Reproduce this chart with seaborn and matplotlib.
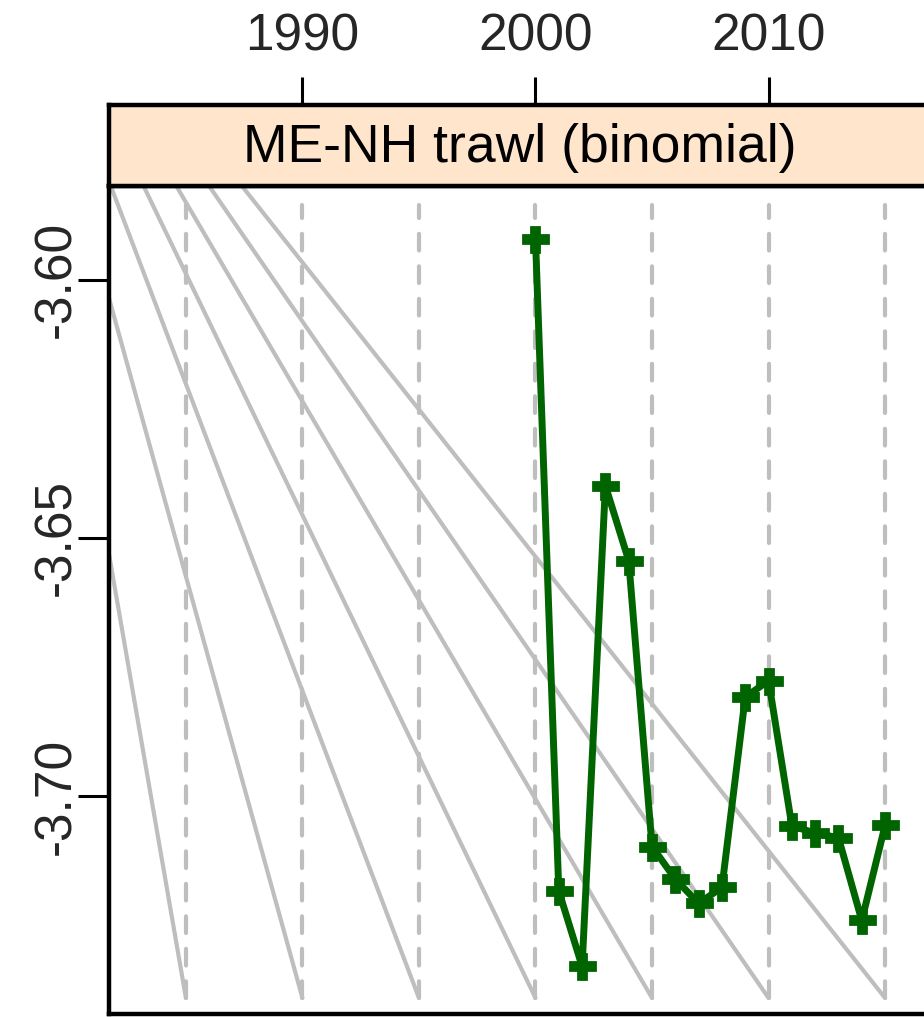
import numpy as np
import pandas as pd
import matplotlib
matplotlib.use("Agg")
import matplotlib.pyplot as plt
import seaborn as sns

# Annual index for the ME-NH trawl survey (binomial component)
years = [2000, 2001, 2002, 2003, 2004, 2005, 2006, 2007,
         2008, 2009, 2010, 2011, 2012, 2013, 2014, 2015]
index_values = [-3.5922, -3.7183, -3.7329, -3.6399, -3.6544, -3.7097,
                -3.7160, -3.7207, -3.7176, -3.6808, -3.6776, -3.7057,
                -3.7071, -3.7080, -3.7240, -3.7056]

panel_title = "ME-NH trawl (binomial)"
x_ticks = [1990, 2000, 2010]
y_ticks = [-3.60, -3.65, -3.70]
y_tick_labels = ["-3.60", "-3.65", "-3.70"]

# Reference guides: vertical dashed years and a fan of diagonal lines
guide_years = [1985, 1990, 1995, 2000, 2005, 2010, 2015]
guide_y_range = [-3.7390, -3.5856]
fan_origin = [1976.60, -3.5204]

x_limits = [1981.70, 2016.97]
y_limits = [-3.7421, -3.5819]

sns.set_theme(style="white")
plt.rcParams["font.family"] = ["Liberation Sans", "DejaVu Sans"]

W, H = 924, 1017
fig = plt.figure(figsize=(W / 100, H / 100), dpi=100)

def fx(px):
    return px / W

def fy(py):
    return 1 - py / H

ax = fig.add_axes([fx(109), fy(1014), fx(931 - 109), fy(186) - fy(1014)])
strip = fig.add_axes([fx(109), fy(186), fx(931 - 109), fy(105) - fy(186)], sharex=ax)

gray = "#BEBEBE"
for yr in guide_years:
    ax.plot([yr, yr], guide_y_range, color=gray, linewidth=3.0,
            dashes=(4.0, 3.8), dash_capstyle="round", zorder=1)
    ax.plot([fan_origin[0], yr], [fan_origin[1], guide_y_range[0]],
            color=gray, linewidth=3.0, zorder=1)

df = pd.DataFrame({"year": years, "index": index_values})
sns.lineplot(data=df, x="year", y="index", ax=ax, color="#006400",
             linewidth=5.0, marker="P", zorder=3)
series_line = ax.lines[-1]
series_line.set_linewidth(5.0)
series_line.set_marker("P")
series_line.set_markersize(18)
series_line.set_markerfacecolor("#006400")
series_line.set_markeredgecolor("#006400")
series_line.set_markeredgewidth(2.0)

ax.set_xlim(x_limits)
ax.set_ylim(y_limits)
ax.set_xlabel("")
ax.set_ylabel("")
ax.tick_params(axis="x", which="both", bottom=False, top=False,
               labelbottom=False, labeltop=False)
ax.set_yticks(y_ticks)
ax.set_yticklabels(y_tick_labels, rotation=90, va="center", fontsize=37)
ax.tick_params(axis="y", left=True, length=22, width=2.2, color="black",
               pad=-2, labelsize=37)
for s in ax.spines.values():
    s.set_color("black")
    s.set_linewidth(3.2)
ax.grid(False)

strip.set_facecolor("#FFE5CC")
strip.set_ylim(0, 1)
strip.set_yticks([])
strip.set_xticks(x_ticks)
strip.xaxis.tick_top()
strip.tick_params(axis="x", top=True, bottom=False, labeltop=True,
                  labelbottom=False, length=20, width=2.2, color="black",
                  pad=11, labelsize=37)
for s in strip.spines.values():
    s.set_color("black")
    s.set_linewidth(3.2)
strip.text(0.5, 0.47, panel_title, transform=strip.transAxes,
           ha="center", va="center", fontsize=38.5, color="black")
strip.grid(False)

fig.savefig("out.png", dpi=100)
